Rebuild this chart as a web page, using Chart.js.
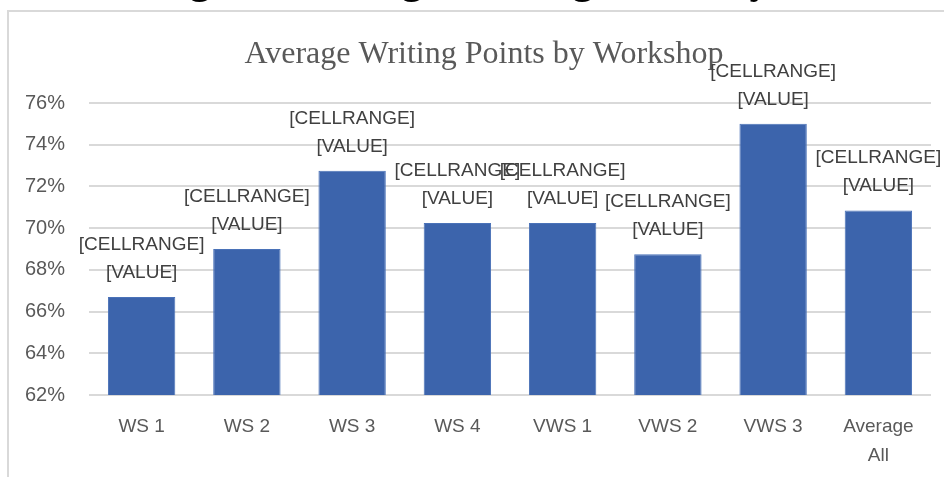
<!DOCTYPE html>
<html>
<head>
<meta charset="utf-8">
<script src="https://cdn.jsdelivr.net/npm/chart.js@4"></script>
<style>
  html, body { margin: 0; padding: 0; background: #fff; }
  #wrap { width: 944px; height: 477px; }
</style>
</head>
<body>
<div id="wrap"><canvas id="chart" width="944" height="477"></canvas></div>
<script>
const categories = ['WS 1', 'WS 2', 'WS 3', 'WS 4', 'VWS 1', 'VWS 2', 'VWS 3', ['Average', 'All']];
const avgPoints = [66.7, 69.0, 72.75, 70.25, 70.25, 68.75, 75.0, 70.85];
const yTicks = [62, 64, 66, 68, 70, 72, 74, 76];
const labelLines = ['[CELLRANGE]', '[VALUE]'];
const chartTitle = 'Average Writing Points by Workshop';
const pageHeading = 'Figure: Average Writing Points by Workshop';

// frame, cut-off heading and the grey title
const decoPlugin = {
  id: 'deco',
  beforeDraw(chart) {
    const ctx = chart.ctx;
    ctx.save();
    ctx.fillStyle = '#fff';
    ctx.fillRect(0, 0, chart.width, chart.height);
    ctx.strokeStyle = '#d9d9d9';
    ctx.lineWidth = 2;
    ctx.strokeRect(8, 11, chart.width + 10, chart.height + 10);
    // heading of the page above, mostly cut off
    ctx.fillStyle = '#000';
    ctx.font = 'bold 42px "Liberation Serif"';
    ctx.textAlign = 'center';
    ctx.textBaseline = 'alphabetic';
    ctx.fillText(pageHeading, 560, -7);
    ctx.fillStyle = '#595959';
    ctx.font = '32px "Liberation Serif"';
    ctx.fillText(chartTitle, 484, 63);
    ctx.restore();
  },
  afterDatasetsDraw(chart) {
    const ctx = chart.ctx;
    const meta = chart.getDatasetMeta(0);
    ctx.save();
    ctx.fillStyle = '#404040';
    ctx.font = '19px "Liberation Sans"';
    ctx.textAlign = 'center';
    ctx.textBaseline = 'alphabetic';
    meta.data.forEach(bar => {
      ctx.fillText(labelLines[0], bar.x, bar.y - 47);
      ctx.fillText(labelLines[1], bar.x, bar.y - 19);
    });
    ctx.restore();
  }
};

new Chart(document.getElementById('chart'), {
  type: 'bar',
  data: {
    labels: categories,
    datasets: [{
      data: avgPoints,
      backgroundColor: '#3c64ac',
      borderColor: '#4a72b8',
      borderWidth: 1,
      categoryPercentage: 1,
      barPercentage: 0.64
    }]
  },
  options: {
    responsive: false,
    animation: false,
    devicePixelRatio: 1,
    layout: { padding: { left: 0, right: 13, top: 103, bottom: 0 } },
    plugins: {
      legend: { display: false },
      tooltip: { enabled: false },
      title: { display: false }
    },
    scales: {
      x: {
        grid: { display: false },
        border: { display: false },
        ticks: {
          color: '#595959',
          font: { family: '"Liberation Sans"', size: 19, lineHeight: 1.55 },
          padding: 9,
          maxRotation: 0
        },
        afterFit: s => { s.height = 82; }
      },
      y: {
        min: 62,
        max: 76,
        afterBuildTicks: s => { s.ticks = yTicks.map(v => ({ value: v })); },
        grid: { color: '#d9d9d9', lineWidth: 2, drawTicks: false },
        border: { display: false },
        ticks: {
          color: '#595959',
          font: { family: '"Liberation Sans"', size: 20 },
          padding: 24,
          callback: v => v + '%'
        },
        afterFit: s => { s.width = 89; }
      }
    }
  },
  plugins: [decoPlugin]
});
</script>
</body>
</html>
